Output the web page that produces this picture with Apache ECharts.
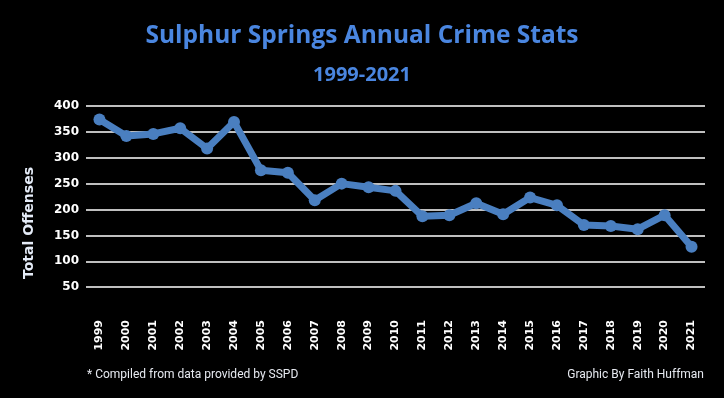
<!DOCTYPE html>
<html lang="en">
  <head>
    <meta charset="UTF-8" />
    <title>Sulphur Springs Annual Crime Stats</title>
    <script src="https://cdn.jsdelivr.net/npm/echarts@6/dist/echarts.min.js"></script>
    <style>
      html, body { margin: 0; padding: 0; background: #000; }
    </style>
  </head>
  <body>
    <div id="chart" style="width: 724px; height: 398px"></div>

    <script>
      var years = ["1999", "2000", "2001", "2002", "2003", "2004", "2005", "2006", "2007", "2008", "2009", "2010",
        "2011", "2012", "2013", "2014", "2015", "2016", "2017", "2018", "2019", "2020", "2021"]
      var offenses = [374, 342, 346, 357, 318, 369, 276, 271, 218, 250, 243, 236,
        187, 189, 212, 191, 223, 208, 170, 168, 162, 189, 128]

      var mCharts = echarts.init(document.getElementById("chart"))

      // footnote style
      var noteStyle = { color: "#e6e9f0", fontSize: 12, fontWeight: "normal", fontFamily: "Roboto" }

      var option = {
        backgroundColor: "#000",
        title: [
          {
            text: "Sulphur Springs Annual Crime Stats",
            left: "center",
            top: 19,
            textStyle: { color: "#4a86e0", fontSize: 24.5, fontWeight: "bold", fontFamily: "Open Sans" },
          },
          {
            text: "1999-2021",
            left: "center",
            top: 60,
            textStyle: { color: "#4a86e0", fontSize: 20, fontWeight: "bold", fontFamily: "Open Sans" },
          },
          { text: "* Compiled from data provided by SSPD", left: 82, top: 364, textStyle: noteStyle },
          { text: "Graphic By Faith Huffman", right: 15, top: 364, textStyle: noteStyle },
        ],
        graphic: [
          {
            type: "text",
            x: 29,
            y: 223,
            rotation: Math.PI / 2,
            style: {
              text: "Total Offenses",
              fill: "#e4ebf7",
              font: "bold 14px 'DejaVu Sans'",
              align: "center",
              verticalAlign: "middle",
            },
          },
        ],
        grid: { left: 86, right: 19, top: 106, bottom: 85 },
        xAxis: {
          type: "category",
          data: years,
          axisLine: { show: false },
          axisTick: { show: false },
          axisLabel: {
            rotate: 90,
            color: "#fff",
            fontSize: 11,
            fontWeight: "bold",
            fontFamily: "DejaVu Sans",
            margin: 7,
          },
        },
        yAxis: {
          type: "value",
          min: 0,
          max: 400,
          interval: 50,
          axisLine: { show: false },
          axisTick: { show: false },
          axisLabel: {
            color: "#fff",
            fontSize: 12,
            fontWeight: "bold",
            fontFamily: "DejaVu Sans",
            margin: 7,
            formatter: function (v) { return v === 0 ? "" : v },
          },
          splitLine: {
            lineStyle: { color: "#fff", width: 1.5 },
            showMinLine: false,
          },
        },
        series: [
          {
            type: "line",
            data: offenses,
            symbol: "circle",
            symbolSize: 12,
            lineStyle: { color: "#4a7fc0", width: 7 },
            itemStyle: { color: "#4a7fc0" },
            animation: false,
          },
        ],
      }

      mCharts.setOption(option)
    </script>
  </body>
</html>
